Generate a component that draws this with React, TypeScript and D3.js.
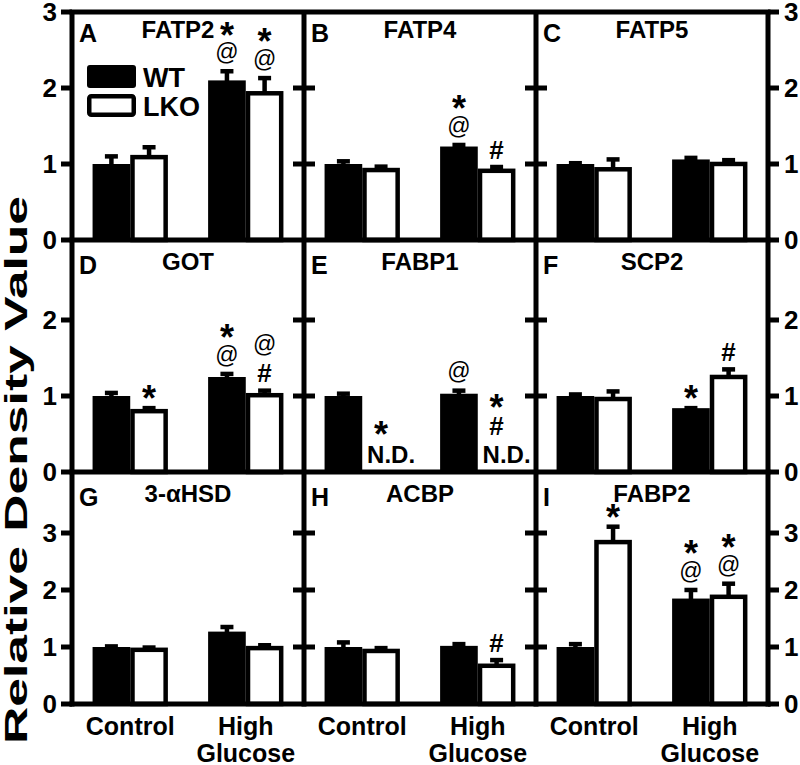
import React from "react";
import * as d3 from "d3";

const panelLetters = ["A", "B", "C", "D", "E", "F", "G", "H", "I"];
const panelTitles = ["FATP2", "FATP4", "FATP5", "GOT", "FABP1", "SCP2", "3-αHSD", "ACBP", "FABP2"];
const groups = ["Control", "High Glucose"];
const groupLabelLines = [["Control"], ["High", "Glucose"]];
const seriesNames = ["WT", "LKO"];
const yMaxByRow = [3, 3, 4];
const tickLabelsByRow = [[0, 1, 2, 3], [0, 1, 2], [0, 1, 2, 3]];
const innerTicksByRow = [[1, 2], [1, 2], [1, 2, 3]];

// per panel: [Control, High Glucose]
const wtMeans = [[1.0, 2.1], [1.0, 1.23], [1.0, 1.06], [1.0, 1.25], [1.0, 1.03], [1.0, 0.84], [1.0, 1.27], [1.0, 1.02], [1.0, 1.85]];
const wtErrors = [[0.13, 0.15], [0.065, 0.05], [0.04, 0.05], [0.07, 0.07], [0.06, 0.07], [0.05, 0.03], [0.05, 0.12], [0.12, 0.07], [0.09, 0.19]];
const lkoMeans = [[1.12, 1.96], [0.95, 0.94], [0.96, 1.03], [0.83, 1.04], [null, null], [0.99, 1.28], [0.99, 1.02], [0.97, 0.71], [2.88, 1.92]];
const lkoErrors = [[0.13, 0.2], [0.045, 0.05], [0.13, 0.05], [0.04, 0.06], [0, 0], [0.1, 0.1], [0.04, 0.05], [0.05, 0.1], [0.27, 0.23]];
// significance marks, listed from bottom to top
const wtMarks = [[[], ["@", "*"]], [[], ["@", "*"]], [[], []], [[], ["@", "*"]], [[], ["@"]], [[], ["*"]], [[], []], [[], []], [[], ["@", "*"]]];
const lkoMarks = [[[], ["@", "*"]], [[], ["#"]], [[], []], [["*"], ["#", "@"]], [["*"], ["#", "*"]], [[], ["#"]], [[], []], [[], ["#"]], [["*"], ["@", "*"]]];

const FONT = "'Liberation Sans', Arial, Helvetica, sans-serif";
const W = 800;
const H = 765;
const LEFT = 72;
const RIGHT = 768;
const TOP = 12;
const ROW_STEP = 232;
const ROW_RANGE = 228;
const FIRST_Y0 = 240;
const AX = 5;
const BAR_SW = 4.5;
const titleShift = [-10, 0, 0, 0, 0, 0, 0, 0, 0];

const markStyle: Record<string, { size: number; weight: string; off: number }> = {
  "*": { size: 36, weight: "bold", off: 0.57 },
  "@": { size: 23, weight: "normal", off: 0.265 },
  "#": { size: 26, weight: "bold", off: 0.345 },
};

export default function App() {
  const colW = (RIGHT - LEFT) / 3;
  const colX = d3.range(3).map((c) => LEFT + c * colW);
  const groupScale = d3.scaleBand<string>().domain(groups).range([0, colW]).paddingInner(0.348).paddingOuter(0.178);
  const seriesScale = d3.scaleBand<string>().domain(seriesNames).range([0, groupScale.bandwidth()]);
  const bw = seriesScale.bandwidth();

  const rowScale = (r: number) =>
    d3.scaleLinear().domain([0, yMaxByRow[r]]).range([FIRST_Y0 + r * ROW_STEP, FIRST_Y0 + r * ROW_STEP - ROW_RANGE]);

  const elements: React.ReactNode[] = [];

  panelTitles.forEach((title, p) => {
    const r = Math.floor(p / 3);
    const c = p % 3;
    const y = rowScale(r);
    const x0 = colX[c];
    const y0 = y(0);
    const top = y(yMaxByRow[r]);

    elements.push(
      <text key={`let${p}`} x={x0 + 7} y={top + 30} fontSize={25} fontWeight="bold" fontFamily={FONT}>
        {panelLetters[p]}
      </text>
    );
    elements.push(
      <text key={`tit${p}`} x={x0 + colW / 2 + titleShift[p]} y={top + 26} fontSize={24} fontWeight="bold" fontFamily={FONT} textAnchor="middle">
        {title}
      </text>
    );

    groups.forEach((g, gi) => {
      const gx = x0 + (groupScale(g) as number);
      seriesNames.forEach((s, si) => {
        const bx = gx + (seriesScale(s) as number);
        const cx = bx + bw / 2;
        const mean = si === 0 ? wtMeans[p][gi] : lkoMeans[p][gi];
        const err = si === 0 ? wtErrors[p][gi] : lkoErrors[p][gi];
        const marks = si === 0 ? wtMarks[p][gi] : lkoMarks[p][gi];
        let capTop: number;
        if (mean === null) {
          capTop = y0 - 31;
          elements.push(
            <text key={`nd${p}${gi}${si}`} x={cx + 10} y={y0 - 9} fontSize={24} fontWeight="bold" fontFamily={FONT} textAnchor="middle">
              N.D.
            </text>
          );
        } else {
          const yt = y(mean);
          const ye = y(mean + err);
          capTop = ye;
          elements.push(
            <line key={`es${p}${gi}${si}`} x1={cx} x2={cx} y1={yt + 1} y2={ye + 2} stroke="#000" strokeWidth={4.5} />
          );
          elements.push(
            <line key={`ec${p}${gi}${si}`} x1={cx - 6.5} x2={cx + 6.5} y1={ye + 2.25} y2={ye + 2.25} stroke="#000" strokeWidth={4.5} />
          );
          if (si === 0) {
            elements.push(<rect key={`b${p}${gi}${si}`} x={bx} y={yt} width={bw} height={y0 - yt} fill="#000" />);
          } else {
            elements.push(
              <rect
                key={`b${p}${gi}${si}`}
                x={bx + BAR_SW / 2}
                y={yt + BAR_SW / 2}
                width={bw - BAR_SW}
                height={y0 - yt - BAR_SW / 2}
                fill="#fff"
                stroke="#000"
                strokeWidth={BAR_SW}
              />
            );
          }
        }
        marks.forEach((m, mi) => {
          const st = markStyle[m];
          const cy = capTop - 15 - mi * 27;
          elements.push(
            <text
              key={`m${p}${gi}${si}${mi}`}
              x={cx}
              y={cy + st.off * st.size}
              fontSize={st.size}
              fontWeight={st.weight}
              fontFamily={FONT}
              textAnchor="middle"
            >
              {m}
            </text>
          );
        });
      });
    });
  });

  const frame: React.ReactNode[] = [];
  frame.push(<line key="top" x1={LEFT - AX / 2} x2={RIGHT + AX / 2} y1={TOP} y2={TOP} stroke="#000" strokeWidth={AX} />);
  [0, 1, 2].forEach((r) => {
    const y = rowScale(r);
    frame.push(
      <line key={`base${r}`} x1={LEFT - AX / 2} x2={RIGHT + AX / 2} y1={y(0)} y2={y(0)} stroke="#000" strokeWidth={AX} />
    );
    tickLabelsByRow[r].forEach((t) => {
      const ty = y(t);
      frame.push(<line key={`lt${r}${t}`} x1={LEFT - 11} x2={LEFT} y1={ty} y2={ty} stroke="#000" strokeWidth={AX} />);
      frame.push(<line key={`rt${r}${t}`} x1={RIGHT} x2={RIGHT + 11} y1={ty} y2={ty} stroke="#000" strokeWidth={AX} />);
      frame.push(
        <text key={`ll${r}${t}`} x={57} y={ty + 9} fontSize={26} fontWeight="bold" fontFamily={FONT} textAnchor="end">
          {t}
        </text>
      );
      frame.push(
        <text key={`rl${r}${t}`} x={784} y={ty + 9} fontSize={26} fontWeight="bold" fontFamily={FONT} textAnchor="start">
          {t}
        </text>
      );
    });
    innerTicksByRow[r].forEach((t) => {
      [1, 2].forEach((c) => {
        const ty = y(t);
        frame.push(
          <line key={`it${r}${t}${c}`} x1={colX[c] - 11} x2={colX[c] + 11} y1={ty} y2={ty} stroke="#000" strokeWidth={AX} />
        );
      });
    });
  });
  [0, 1, 2, 3].forEach((c) => {
    const x = LEFT + c * colW;
    frame.push(<line key={`v${c}`} x1={x} x2={x} y1={TOP} y2={rowScale(2)(0) + AX / 2} stroke="#000" strokeWidth={AX} />);
  });

  const catLabels: React.ReactNode[] = [];
  [0, 1, 2].forEach((c) => {
    groups.forEach((g, gi) => {
      const cx = colX[c] + (groupScale(g) as number) + groupScale.bandwidth() / 2;
      groupLabelLines[gi].forEach((line, li) => {
        catLabels.push(
          <text key={`cl${c}${gi}${li}`} x={cx} y={735 + li * 27} fontSize={25} fontWeight="bold" fontFamily={FONT} textAnchor="middle">
            {line}
          </text>
        );
      });
    });
  });

  return (
    <svg width={W} height={H} style={{ position: "absolute", left: 0, top: 0, background: "#fff" }}>
      <rect x={0} y={0} width={W} height={H} fill="#fff" />
      {elements}
      {frame}
      {catLabels}
      <rect x={87} y={65} width={49} height={23} rx={3} fill="#000" />
      <text x={143} y={87} fontSize={27} fontWeight="bold" fontFamily={FONT}>
        {seriesNames[0]}
      </text>
      <rect x={89.25} y={96.25} width={44.5} height={18.5} rx={2} fill="#fff" stroke="#000" strokeWidth={4.5} />
      <text x={143} y={116} fontSize={27} fontWeight="bold" fontFamily={FONT}>
        {seriesNames[1]}
      </text>
      <text
        transform="translate(27,470) rotate(-90)"
        fontSize={32}
        fontWeight="bold"
        fontFamily={FONT}
        textAnchor="middle"
        textLength={548}
        lengthAdjust="spacingAndGlyphs"
      >
        Relative Density Value
      </text>
    </svg>
  );
}
